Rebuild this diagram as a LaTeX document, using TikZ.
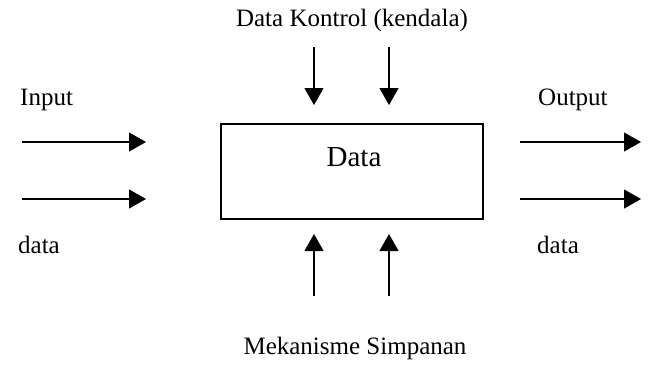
\documentclass[tikz,border=0pt]{standalone}
\usepackage{fontspec}
\setmainfont{Liberation Serif}
\usetikzlibrary{arrows.meta,positioning}

\begin{document}
\begin{tikzpicture}[x=1pt,y=-1pt,
  arr/.style={-{Triangle[length=17pt,width=19pt]},line width=1.1pt},
  lbl/.style={font=\fontsize{25}{30}\selectfont,inner sep=0pt}]
\useasboundingbox (0,0) rectangle (659,373);
\fill[white] (0,0) rectangle (659,373);

% box
\node[draw,line width=1.2pt,minimum width=262pt,minimum height=95pt,inner sep=0pt] (box) at (352,171.5) {};
\node[inner sep=0pt,font=\fontsize{29}{35}\selectfont] (boxtxt) at (354,157) {Data};

% labels
\node[lbl] (kontrol) at (352,20) {Data Kontrol (kendala)};
\node[lbl,anchor=west] (input) at (20,100) {Input};
\node[lbl,anchor=west] (output) at (538,100) {Output};
\node[lbl,anchor=west] (datain) at (18,245) {data};
\node[lbl,anchor=west] (dataout) at (537,245) {data};
\node[lbl] (mekanisme) at (355,348) {Mekanisme Simpanan};

% arrow ends
\coordinate (t1) at (314,47);  \coordinate (t1e) at (314,105);
\coordinate (t2) at (389,47);  \coordinate (t2e) at (389,105);
\coordinate (b1) at (314,296); \coordinate (b1e) at (314,234);
\coordinate (b2) at (389,296); \coordinate (b2e) at (389,234);
\coordinate (l1) at (22,142);  \coordinate (l1e) at (146,142);
\coordinate (l2) at (22,199);  \coordinate (l2e) at (146,199);
\coordinate (r1) at (520,142); \coordinate (r1e) at (641,142);
\coordinate (r2) at (520,199); \coordinate (r2e) at (641,199);

\draw[arr] (t1)--(t1e);
\draw[arr] (t2)--(t2e);
\draw[arr] (b1)--(b1e);
\draw[arr] (b2)--(b2e);
\draw[arr] (l1)--(l1e);
\draw[arr] (l2)--(l2e);
\draw[arr] (r1)--(r1e);
\draw[arr] (r2)--(r2e);
\end{tikzpicture}
\end{document}
